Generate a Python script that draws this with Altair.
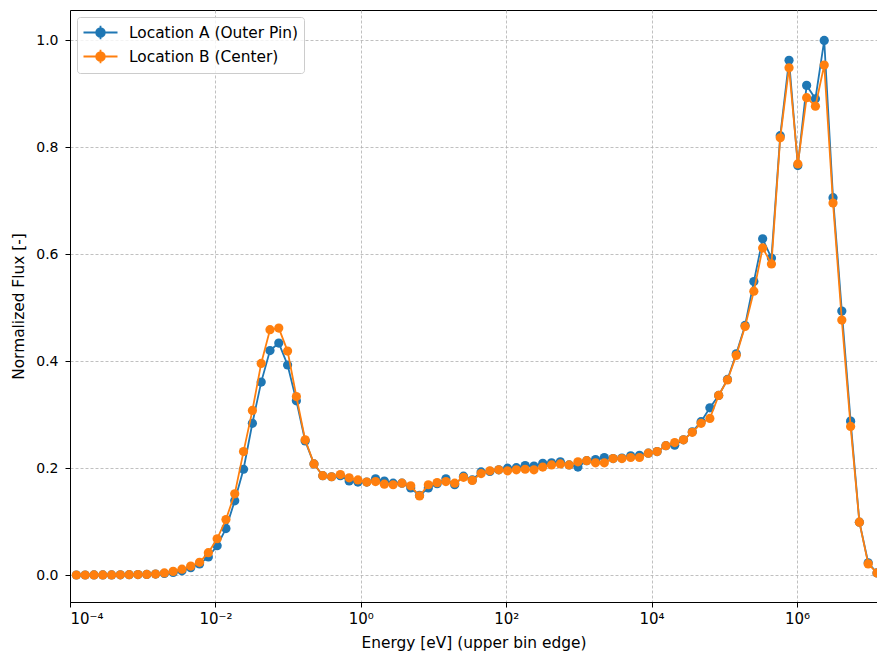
import altair as alt
import pandas as pd

# Upper bin edges, stored as log10(E / eV)
log_energy = [
    -3.912, -3.791, -3.670, -3.549, -3.428, -3.307, -3.186, -3.065, -2.944, -2.823,
    -2.702, -2.581, -2.460, -2.339, -2.218, -2.097, -1.976, -1.855, -1.734, -1.613,
    -1.491, -1.370, -1.249, -1.128, -1.007, -0.886, -0.765, -0.644, -0.523, -0.402,
    -0.281, -0.160, -0.039, 0.082, 0.203, 0.324, 0.445, 0.566, 0.687, 0.808,
    0.929, 1.050, 1.171, 1.292, 1.413, 1.534, 1.655, 1.776, 1.898, 2.019,
    2.140, 2.261, 2.382, 2.503, 2.624, 2.745, 2.866, 2.987, 3.108, 3.229,
    3.350, 3.471, 3.592, 3.713, 3.834, 3.955, 4.076, 4.197, 4.318, 4.439,
    4.560, 4.681, 4.802, 4.923, 5.044, 5.165, 5.286, 5.407, 5.528, 5.649,
    5.770, 5.891, 6.012, 6.133, 6.254, 6.375, 6.496, 6.617, 6.738, 6.859,
    6.980, 7.101,
]

# Normalized flux, outer pin location
flux_a = [
    0.0002, 0.0002, 0.0003, 0.0003, 0.0004, 0.0005, 0.0007, 0.0010, 0.0013, 0.002,
    0.003, 0.005, 0.008, 0.014, 0.021, 0.034, 0.055, 0.087, 0.139, 0.198,
    0.284, 0.361, 0.420, 0.434, 0.393, 0.326, 0.251, 0.208, 0.186, 0.184,
    0.186, 0.176, 0.174, 0.174, 0.180, 0.176, 0.172, 0.172, 0.163, 0.149,
    0.163, 0.171, 0.180, 0.169, 0.185, 0.178, 0.193, 0.194, 0.197, 0.200,
    0.201, 0.205, 0.204, 0.209, 0.210, 0.212, 0.206, 0.202, 0.214, 0.216,
    0.220, 0.218, 0.219, 0.223, 0.224, 0.228, 0.231, 0.242, 0.243, 0.253,
    0.268, 0.287, 0.313, 0.336, 0.366, 0.414, 0.467, 0.549, 0.629, 0.593,
    0.822, 0.963, 0.766, 0.916, 0.891, 1.000, 0.706, 0.494, 0.288, 0.099,
    0.023, 0.004,
]

# Normalized flux, center location
flux_b = [
    0.0002, 0.0002, 0.0003, 0.0003, 0.0004, 0.0005, 0.0007, 0.0010, 0.0012, 0.002,
    0.004, 0.007, 0.011, 0.017, 0.024, 0.042, 0.068, 0.104, 0.152, 0.231,
    0.308, 0.396, 0.459, 0.462, 0.419, 0.334, 0.253, 0.208, 0.186, 0.184,
    0.188, 0.182, 0.178, 0.174, 0.175, 0.170, 0.169, 0.172, 0.167, 0.148,
    0.169, 0.173, 0.175, 0.172, 0.183, 0.177, 0.190, 0.195, 0.197, 0.195,
    0.197, 0.198, 0.197, 0.202, 0.206, 0.208, 0.206, 0.212, 0.214, 0.210,
    0.210, 0.218, 0.218, 0.220, 0.220, 0.228, 0.231, 0.242, 0.248, 0.253,
    0.267, 0.284, 0.293, 0.336, 0.365, 0.411, 0.465, 0.531, 0.612, 0.582,
    0.818, 0.949, 0.769, 0.893, 0.877, 0.954, 0.696, 0.477, 0.278, 0.099,
    0.021, 0.004,
]

series_names = ["Location A (Outer Pin)", "Location B (Center)"]
series_colors = ["#1f77b4", "#ff7f0e"]
x_tick_values = [1e-4, 1e-2, 1, 1e2, 1e4, 1e6]
y_tick_values = [0.0, 0.2, 0.4, 0.6, 0.8, 1.0]

energy = [10 ** v for v in log_energy]
n = len(energy)
df = pd.DataFrame({
    "energy": energy + energy,
    "flux": flux_a + flux_b,
    "series": [series_names[0]] * n + [series_names[1]] * n,
})

FONT = "DejaVu Sans"
TICK_FS = 14
TEXT_FS = 15.4

x_label_expr = (
    "datum.value < 1e-3 ? '10⁻⁴' : datum.value < 1e-1 ? '10⁻²' : "
    "datum.value < 10 ? '10⁰' : datum.value < 1e3 ? '10²' : "
    "datum.value < 1e5 ? '10⁴' : '10⁶'"
)

x_enc = alt.X(
    "energy:Q",
    scale=alt.Scale(type="log", domain=[1e-4, energy[-1]], nice=False),
    axis=alt.Axis(
        values=x_tick_values,
        labelExpr=x_label_expr,
        labelFontSize=15,
        title="Energy [eV] (upper bin edge)",
        titlePadding=9,
        labelPadding=4,
    ),
)
y_enc = alt.Y(
    "flux:Q",
    scale=alt.Scale(domain=[-0.0503, 1.057], nice=False, zero=False),
    axis=alt.Axis(
        values=y_tick_values,
        format=".1f",
        title="Normalized Flux [-]",
        titlePadding=9,
        labelPadding=7,
    ),
)

# errorbar-style legend glyph: line, filled marker and a vertical cap line
legend_glyph = (
    "M-2,0H2M0,-0.78V0.78"
    "M-0.51,0A0.51,0.51 0 1,0 0.51,0A0.51,0.51 0 1,0 -0.51,0Z"
)

color_enc = alt.Color(
    "series:N",
    scale=alt.Scale(domain=series_names, range=series_colors),
    legend=alt.Legend(
        title=None,
        orient="top-left",
        offset=7,
        symbolType=legend_glyph,
        symbolSize=289,
        symbolStrokeWidth=1.8,
        symbolOpacity=1,
        symbolOffset=8,
        labelFont=FONT,
        labelFontSize=TEXT_FS,
        labelColor="black",
        labelOffset=19,
        labelLimit=400,
        rowPadding=3,
        padding=6,
        fillColor="rgba(255,255,255,0.8)",
        strokeColor="#cccccc",
        cornerRadius=3,
    ),
)

base = alt.Chart(df).encode(x=x_enc, y=y_enc, color=color_enc)

layers = []
for name in series_names:
    sub = base.transform_filter(alt.datum.series == name)
    layers.append(sub.mark_line(strokeWidth=1.8, clip=True))
    layers.append(sub.mark_point(filled=True, size=85, opacity=1, clip=True))

chart = (
    alt.layer(*layers)
    .properties(
        width=807,
        height=592,
        autosize="none",
        padding={"left": 70, "top": 10, "right": 0, "bottom": 55},
    )
    .configure_view(stroke="black", strokeWidth=1)
    .configure_axis(
        labelFont=FONT,
        titleFont=FONT,
        labelFontSize=TICK_FS,
        titleFontSize=TEXT_FS,
        titleFontWeight="normal",
        labelColor="black",
        titleColor="black",
        domainColor="black",
        tickColor="black",
        tickSize=5,
        tickWidth=1,
        grid=True,
        gridColor="#b0b0b0",
        gridDash=[3, 2],
        gridWidth=0.8,
    )
)

chart.save("out.html", embed_options={"renderer": "svg", "actions": False})
